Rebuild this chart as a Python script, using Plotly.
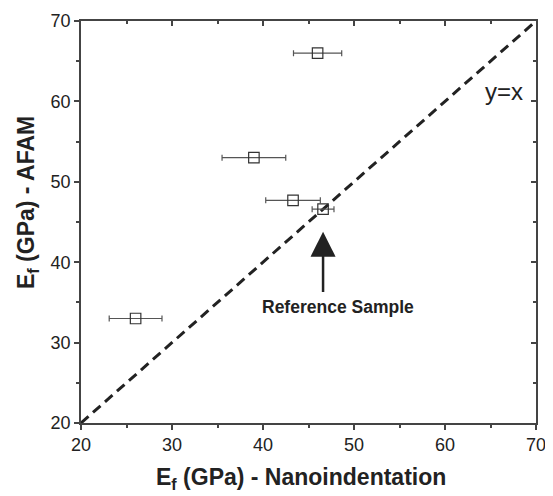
import plotly.graph_objects as go

# Data
x_nano = [26.0, 46.0, 39.0, 43.3, 46.6]
y_afam = [33.0, 66.0, 53.0, 47.7, 46.6]
x_err = [2.9, 2.65, 3.5, 3.0, 1.2]
line_xy = [20, 70]
x_ticks = [20, 30, 40, 50, 60, 70]
y_ticks = [20, 30, 40, 50, 60, 70]

FONT = "Liberation Sans, Arial, sans-serif"
AX = "#444444"

# page body has an 8px default margin; size the figure to fit the window
OFF = 8
W, H = 553 - OFF, 496 - OFF
l, r, t, b = 81 - OFF, 17, 21 - OFF, 73
pw, ph = W - l - r, H - t - b

def px_to_paper(px, py):
    # px, py are page pixel coordinates
    return (px - OFF - l) / pw, (H - b - (py - OFF)) / ph

fig = go.Figure()

fig.add_trace(go.Scatter(
    x=line_xy, y=line_xy, mode="lines",
    line=dict(color="#222222", width=3, dash="10px,6px"),
    showlegend=False, hoverinfo="skip"))

fig.add_trace(go.Scatter(
    x=x_nano, y=y_afam, mode="markers",
    marker=dict(symbol="square-open", size=10.5, color="#333333", line=dict(width=1.2)),
    error_x=dict(type="data", array=x_err, color="#555555", thickness=1.2, width=3),
    showlegend=False))

axis_common = dict(
    showgrid=False, zeroline=False, showline=True, linecolor=AX, linewidth=1.5,
    ticks="outside", ticklen=5, tickwidth=1.5, tickcolor=AX, automargin=False,
    minor=dict(ticks="outside", ticklen=3, tickwidth=1.5, tickcolor=AX, dtick=5),
    tickfont=dict(family=FONT, size=18, color="#222222"),
)
mirror_common = dict(
    showgrid=False, zeroline=False, showline=True, linecolor=AX, linewidth=1.5,
    ticks="inside", ticklen=5, tickwidth=1.5, tickcolor=AX, automargin=False,
    showticklabels=False,
    minor=dict(ticks="inside", ticklen=3, tickwidth=1.5, tickcolor=AX, dtick=5),
)

fig.update_layout(
    width=W, height=H,
    margin=dict(l=l, r=r, t=t, b=b),
    plot_bgcolor="white", paper_bgcolor="white",
    xaxis=dict(range=[20, 70], tickvals=x_ticks, **axis_common),
    yaxis=dict(range=[20, 70], tickvals=y_ticks, **axis_common),
    xaxis2=dict(range=[20, 70], overlaying="x", side="top", tickvals=x_ticks, **mirror_common),
    yaxis2=dict(range=[20, 70], overlaying="y", side="right", tickvals=y_ticks, **mirror_common),
)

# dummy trace to activate secondary (mirror) axes
fig.add_trace(go.Scatter(x=[None], y=[None], xaxis="x2", yaxis="y2", showlegend=False, hoverinfo="skip"))

tx, ty = px_to_paper(301, 478)
fig.add_annotation(x=tx, y=ty, xref="paper", yref="paper",
                   text="<b>E<sub>f</sub> (GPa) - Nanoindentation</b>",
                   showarrow=False, xanchor="center", yanchor="middle",
                   font=dict(family=FONT, size=23, color="#222222"))
tx, ty = px_to_paper(27, 203)
fig.add_annotation(x=tx, y=ty, xref="paper", yref="paper",
                   text="<b>E<sub>f</sub> (GPa) - AFAM</b>", textangle=-90,
                   showarrow=False, xanchor="center", yanchor="middle",
                   font=dict(family=FONT, size=23, color="#222222"))

fig.add_annotation(x=66.45, y=61.2, xref="x", yref="y", text="y=x", showarrow=False,
                   font=dict(family=FONT, size=24, color="#222222"))
fig.add_annotation(x=48.2, y=34.4, xref="x", yref="y", text="<b>Reference Sample</b>", showarrow=False,
                   font=dict(family=FONT, size=17.5, color="#222222"))
fig.add_annotation(x=46.6, y=43.8, xref="x", yref="y", ax=46.6, ay=36.1, axref="x", ayref="y",
                   text="", showarrow=True, arrowhead=2, arrowsize=2, arrowwidth=2.5,
                   arrowcolor="#222222", standoff=0)

fig.write_html("out.html")
